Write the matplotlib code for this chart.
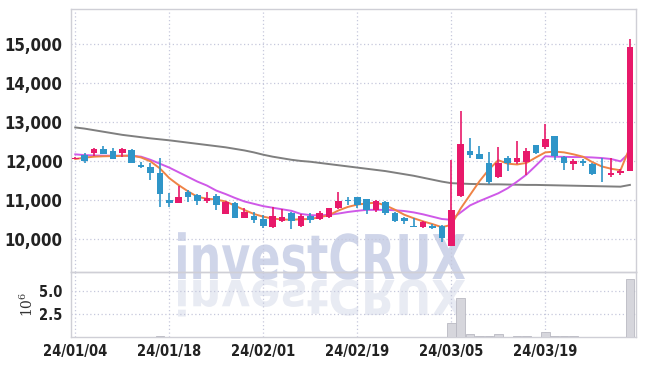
import matplotlib
matplotlib.use("Agg")
import matplotlib.pyplot as plt
from matplotlib.textpath import TextPath
from matplotlib.patches import PathPatch
from matplotlib.font_manager import FontProperties
from matplotlib.transforms import Affine2D
from matplotlib.ticker import FuncFormatter

# trading days shown on the chart
dates = ["24/01/04", "24/01/05", "24/01/08", "24/01/09", "24/01/10", "24/01/11", "24/01/12",
         "24/01/15", "24/01/16", "24/01/17", "24/01/18", "24/01/19", "24/01/22", "24/01/23",
         "24/01/24", "24/01/25", "24/01/26", "24/01/29", "24/01/30", "24/01/31", "24/02/01",
         "24/02/02", "24/02/05", "24/02/06", "24/02/07", "24/02/08", "24/02/13", "24/02/14",
         "24/02/15", "24/02/16", "24/02/19", "24/02/20", "24/02/21", "24/02/22", "24/02/23",
         "24/02/26", "24/02/27", "24/02/28", "24/02/29", "24/03/04", "24/03/05", "24/03/06",
         "24/03/07", "24/03/08", "24/03/11", "24/03/12", "24/03/13", "24/03/14", "24/03/15",
         "24/03/18", "24/03/19", "24/03/20", "24/03/21", "24/03/22", "24/03/25", "24/03/26",
         "24/03/27", "24/03/28", "24/03/29", "24/04/01"]

opens = [12060, 12150, 12210, 12310, 12255, 12210, 12280, 11900, 11840, 11700,
         11000, 10930, 11215, 11130, 10960, 11090, 10650, 10915, 10545, 10590,
         10505, 10315, 10470, 10660, 10340, 10590, 10515, 10560, 10785, 11000,
         11065, 11020, 10730, 10935, 10675, 10545, 10335, 10295, 10320, 10320,
         9820, 11100, 12255, 12180, 11950, 11585, 12070, 11985, 11985, 12410,
         12370, 12630, 12100, 11910, 12010, 11925, 11695, 11630, 11700, 11730]
highs = [12090, 12200, 12320, 12385, 12340, 12320, 12300, 11965, 11940, 12085,
         11170, 11370, 11250, 11145, 11200, 11145, 10975, 10940, 10800, 10700,
         10615, 10830, 10765, 10700, 10640, 10660, 10720, 10800, 11200, 11070,
         11070, 11030, 11000, 10960, 10690, 10570, 10530, 10470, 10380, 10350,
         12025, 13280, 12580, 12385, 12240, 12370, 12130, 12500, 12325, 12420,
         12950, 12640, 12130, 12045, 12040, 11940, 12070, 12070, 11800, 15120]
lows = [12040, 11940, 12135, 12170, 12040, 12110, 11940, 11830, 11510, 10830,
        10830, 10910, 10955, 10860, 10930, 10750, 10640, 10530, 10540, 10400,
        10280, 10290, 10435, 10250, 10315, 10400, 10480, 10530, 10765, 10870,
        10790, 10640, 10680, 10620, 10440, 10380, 10300, 10280, 10250, 9910,
        9810, 11080, 12070, 12040, 11410, 11570, 11730, 11910, 11630, 12180,
        12310, 12025, 11760, 11770, 11880, 11640, 11455, 11600, 11630, 11730]
closes = [12075, 12010, 12310, 12180, 12050, 12310, 11960, 11840, 11685, 11145,
          10930, 11080, 11085, 10960, 11060, 10870, 10935, 10545, 10685, 10490,
          10320, 10590, 10570, 10450, 10590, 10490, 10675, 10785, 10975, 10975,
          10860, 10745, 10985, 10660, 10450, 10450, 10300, 10430, 10270, 10020,
          10745, 12435, 12155, 12060, 11470, 11960, 11960, 12080, 12255, 12215,
          12565, 12115, 11960, 12000, 11940, 11665, 11680, 11700, 11745, 14935]

# moving averages
ma_short = [12050, 12085, 12110, 12120, 12125, 12130, 12140, 12090, 11990, 11810,
            11560, 11380, 11220, 11080, 11030, 11010, 10960, 10850, 10740, 10640,
            10570, 10520, 10500, 10490, 10505, 10510, 10555, 10610, 10730, 10820,
            10880, 10910, 10930, 10860, 10750, 10620, 10530, 10450, 10380, 10300,
            10360, 10780, 11130, 11480, 11780, 12020, 11930, 11910, 11950, 12090,
            12220, 12240, 12220, 12170, 12110, 11970, 11860, 11800, 11760, 12350]
ma_mid = [12170, 12150, 12140, 12135, 12135, 12135, 12130, 12110, 12030, 11930,
          11830, 11710, 11590, 11470, 11370, 11240, 11150, 11050, 10960, 10900,
          10840, 10800, 10760, 10720, 10640, 10610, 10600, 10620, 10650, 10690,
          10720, 10745, 10745, 10745, 10735, 10715, 10680, 10630, 10570, 10510,
          10490, 10680, 10860, 10970, 11070, 11170, 11300, 11470, 11650, 11880,
          12120, 12110, 12105, 12100, 12100, 12090, 12075, 12050, 11990, 12220]
ma_long = [12860, 12830, 12790, 12750, 12710, 12670, 12640, 12610, 12580, 12555,
           12530, 12500, 12470, 12440, 12410, 12380, 12350, 12310, 12270, 12220,
           12160, 12110, 12070, 12030, 12000, 11980, 11950, 11920, 11890, 11860,
           11830, 11800, 11770, 11740, 11700, 11660, 11620, 11570, 11520, 11470,
           11430, 11420, 11410, 11405, 11400, 11400, 11395, 11390, 11385, 11385,
           11380, 11375, 11370, 11365, 11360, 11355, 11350, 11345, 11340, 11385]

volumes = [20000, 20000, 20000, 20000, 20000, 20000, 20000, 20000, 30000, 120000,
           20000, 20000, 20000, 20000, 20000, 20000, 20000, 20000, 20000, 20000,
           20000, 20000, 20000, 20000, 20000, 20000, 20000, 20000, 20000, 20000,
           20000, 20000, 20000, 20000, 20000, 20000, 20000, 20000, 20000, 30000,
           1500000, 4200000, 300000, 150000, 150000, 300000, 50000, 150000, 150000, 50000,
           500000, 150000, 80000, 80000, 20000, 50000, 50000, 50000, 20000, 6300000]

UP = "#e8196a"
DOWN = "#2f95c8"
GRID = "#c6c8dc"
SPINE = "#cfcfd6"

# narrow font for the tick labels, falls back if not installed
fams = ["DejaVu Sans Condensed", "Liberation Sans Narrow", "DejaVu Sans"]
ytick_font = FontProperties(family=fams, stretch="condensed", weight="bold", size=12)
vtick_font = FontProperties(family=fams, stretch="condensed", weight="bold", size=10.5)
xtick_font = FontProperties(family=fams, stretch="condensed", weight="bold", size=10.5)
plt.rcParams["mathtext.fontset"] = "dejavuserif"

fig = plt.figure(figsize=(6.45, 3.66), dpi=100, facecolor="white")
ax = fig.add_axes([71 / 645, 1 - 272 / 366, 565 / 645, 263 / 366])
axv = fig.add_axes([71 / 645, 1 - 337 / 366, 565 / 645, 65 / 366], sharex=ax)
ax.set_facecolor("none")
axv.set_facecolor("none")

x = list(range(len(dates)))
colors = [UP if c >= o else DOWN for o, c in zip(opens, closes)]

# candles
ax.vlines(x, lows, highs, colors=colors, linewidth=1.2, zorder=3)
bottoms = [min(o, c) for o, c in zip(opens, closes)]
heights = [max(abs(c - o), 20) for o, c in zip(opens, closes)]
ax.bar(x, heights, bottom=bottoms, width=0.7, color=colors, zorder=4)

# moving averages
ax.plot(x, ma_long, color="#7f7f7f", linewidth=1.4, zorder=2)
ax.plot(x, ma_mid, color="#cf59e8", linewidth=1.4, zorder=2)
ax.plot(x, ma_short, color="#ef8346", linewidth=1.4, zorder=2)

ax.set_xlim(-0.45, 59.65)
ax.set_ylim(9150, 15900)
ax.set_yticks([10000, 11000, 12000, 13000, 14000, 15000])
ax.yaxis.set_major_formatter(FuncFormatter(lambda v, p: f"{int(v):,}"))
ax.tick_params(axis="x", labelbottom=False, length=0)
ax.tick_params(axis="y", length=0, pad=6)

# volume
axv.bar(x, volumes, width=0.92, color="#d6d6dc", edgecolor="#b9b9c2", linewidth=0.6, zorder=3)
axv.set_ylim(0, 7.0e6)
axv.set_yticks([2.5e6, 5.0e6])
axv.yaxis.set_major_formatter(FuncFormatter(lambda v, p: f"{v / 1e6:.1f}"))
axv.set_ylabel("$10^6$", fontsize=10, color="#333333")
axv.yaxis.set_label_coords(-0.062, 0.5)
axv.set_xticks(range(0, len(dates), 10))
axv.set_xticklabels([dates[i] for i in range(0, len(dates), 10)])
axv.tick_params(axis="both", length=0)
axv.tick_params(axis="x", pad=5)
axv.tick_params(axis="y", pad=6)

for lab in ax.get_yticklabels():
    lab.set_fontproperties(ytick_font)
for lab in axv.get_yticklabels():
    lab.set_fontproperties(vtick_font)
for lab in axv.get_xticklabels():
    lab.set_fontproperties(xtick_font)

for a in (ax, axv):
    a.tick_params(labelcolor="#222222")
    a.grid(True, linestyle=(0, (1, 2)), color=GRID, linewidth=0.9, zorder=0)
    a.set_axisbelow(True)
    for s in a.spines.values():
        s.set_color(SPINE)
        s.set_linewidth(1.0)

# watermark and its reflection
fp = FontProperties(family="DejaVu Sans", weight="bold")
tp = TextPath((0, 0), "investCRUX", size=1, prop=fp)
bb = tp.get_extents()
sx = 287 / bb.width
sy = 45 / 0.73
to_fig = Affine2D().scale(1 / 645, 1 / 366) + fig.transFigure
t_main = Affine2D().translate(-bb.x0, 0).scale(sx, sy).translate(178, 366 - 279)
t_refl = Affine2D().translate(-bb.x0, 0).scale(sx, -sy * 0.78).translate(178, 366 - 280)
fig.patches.append(PathPatch(tp, transform=t_main + to_fig, facecolor="#c7cee6",
                             edgecolor="none", alpha=0.85, zorder=-1))
fig.patches.append(PathPatch(tp, transform=t_refl + to_fig, facecolor="#e3e6f0",
                             edgecolor="none", alpha=0.8, zorder=-1))

fig.savefig("out.png", dpi=100, facecolor="white")
